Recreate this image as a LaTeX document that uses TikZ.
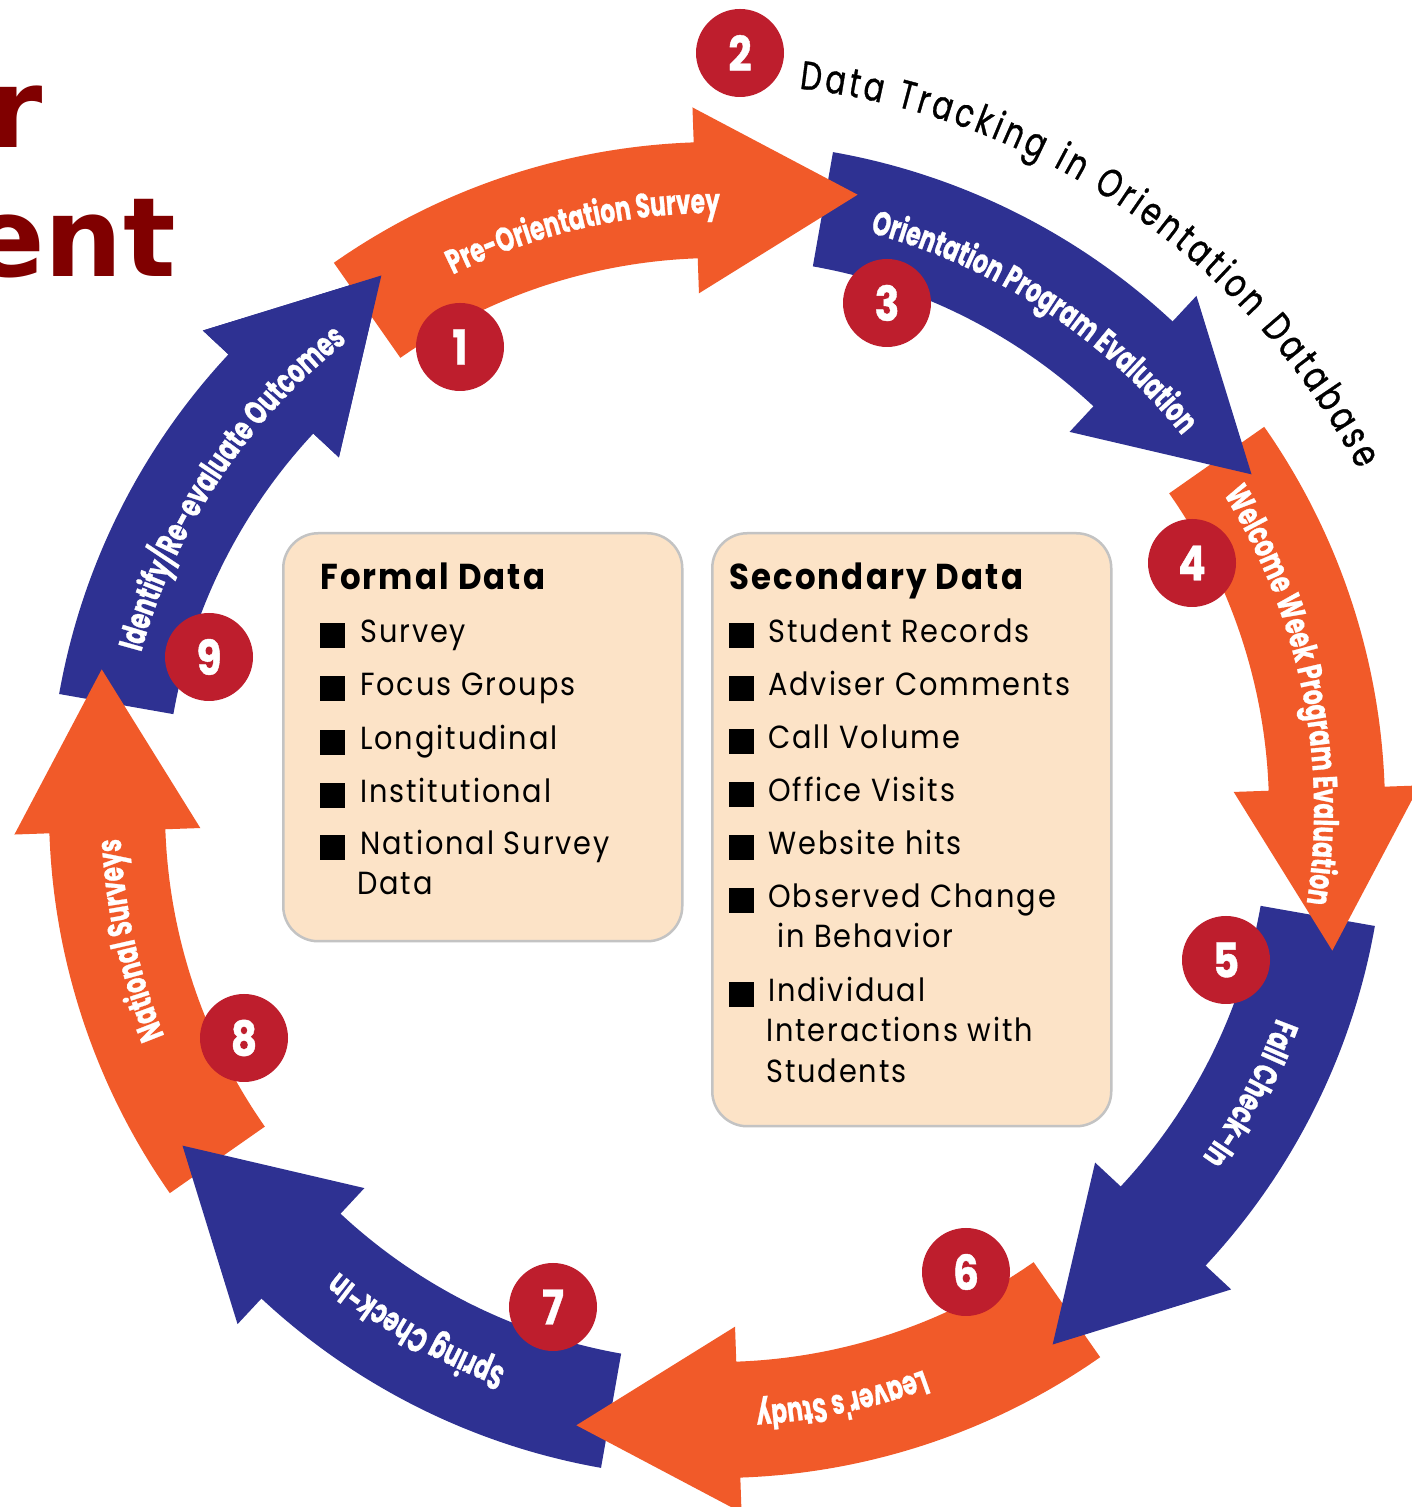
\documentclass[tikz,border=0pt]{standalone}
\usepackage{fontspec}
\setmainfont{Poppins}
\newfontfamily\boxfamily[FakeStretch=0.9, LetterSpace=6]{Poppins}
\newfontfamily\outerfamily[FakeStretch=0.75, FakeBold=0.8]{Poppins}
\newfontfamily\arrowfamily[FakeStretch=0.68, FakeBold=0.8]{Poppins}
\newfontfamily\numfamily[FakeStretch=0.85, FakeBold=0.8]{Poppins}
\newfontfamily\titlefamily{DejaVu Sans}
\usetikzlibrary{decorations.text,calc}
\definecolor{arrorange}{RGB}{241,90,41}
\definecolor{arrblue}{RGB}{46,49,146}
\definecolor{numred}{RGB}{190,30,45}
\definecolor{peach}{RGB}{252,227,199}
\definecolor{boxgray}{RGB}{195,195,195}
\definecolor{titlered}{RGB}{128,0,0}
\tikzset{
 bandtext/.style={decorate, decoration={text along path, text align=center, text color=white,
   text={|\arrowfamily\bfseries\fontsize{34}{34}\selectfont|#1}}},
 numcirc/.style={circle, fill=numred, minimum size=88pt, inner sep=0pt, text=white,
   font=\numfamily\bfseries\fontsize{48}{48}\selectfont},
 databox/.style={draw=boxgray, line width=2.5pt, fill=peach, rounded corners=35pt,
   anchor=north west, inner sep=0pt},
 heading/.style={anchor=base west, inner sep=0pt, font=\boxfamily\bfseries\fontsize{36}{36}\selectfont},
 item/.style={anchor=base west, inner sep=0pt, font=\boxfamily\fontsize{32}{32}\selectfont},
 bullet/.style={fill=black, minimum size=25pt, inner sep=0pt, anchor=south west},
 titletext/.style={anchor=base east, inner sep=0pt, text=titlered,
   font=\titlefamily\bfseries\fontsize{110}{110}\selectfont}
}
\begin{document}
\begin{tikzpicture}[x=1pt,y=1pt]
\useasboundingbox (0,0) rectangle (1411,1507);
\fill[white] (0,0) rectangle (1411,1507);

% cropped title
\node[titletext] (title1) at (43,1359) {r};
\node[titletext] (title2) at (176,1230) {ent};

% ring of arrows
\begin{scope}[shift={(717,697)}]
\foreach \t/\c in {170/arrblue,215/arrorange,260/arrblue,305/arrorange,350/arrblue,35/arrorange,80/arrblue,125/arrorange}{
  \pgfmathsetmacro\hb{\t-33}
  \pgfmathsetmacro\tg{\t-123}
  \fill[\c] (\t:668) arc[start angle=\t, end angle=\hb, radius=668] -- (\hb:703)
     -- ($(\hb:610)+(\tg:162)$) -- (\hb:517) -- (\hb:552)
     arc[start angle=\hb, end angle=\t, radius=552] -- cycle;
}
% head of arrow 8 lies over the tail of arrow 1
\fill[arrblue] (137:703) -- ($(137:610)+(47:162)$) -- (137:517) -- cycle;

% labels along the arrows
\path[bandtext={Pre-Orientation Survey}] (133:597) arc[start angle=133, end angle=73, radius=597];
\path[bandtext={Orientation Program Evaluation}] (87:597) arc[start angle=87, end angle=27, radius=597];
\path[bandtext={Welcome Week Program Evaluation}] (41.5:597) arc[start angle=41.5, end angle=-18.5, radius=597];
\path[bandtext={Fall Check-In}] (2:597) arc[start angle=2, end angle=-58, radius=597];
\path[bandtext={Leaver's Study}] (-48:597) arc[start angle=-48, end angle=-108, radius=597];
\path[bandtext={Spring Check-In}] (-90:597) arc[start angle=-90, end angle=-150, radius=597];
\path[bandtext={National Surveys}] (222.5:597) arc[start angle=222.5, end angle=162.5, radius=597];
\path[bandtext={Identify/Re-evaluate Outcomes}] (176.5:597) arc[start angle=176.5, end angle=116.5, radius=597];

% outer label
\path[decorate, decoration={text along path, text align=fit to path,
  text={|\outerfamily\fontsize{40}{40}\selectfont|Data Tracking in Orientation Database}}]
  (83.5:726) arc[start angle=83.5, end angle=28, radius=726];
\end{scope}

% numbered circles
\node[numcirc] (n1) at (460,1160) {1};
\node[numcirc] (n2) at (740,1454) {2};
\node[numcirc] (n3) at (887,1204) {3};
\node[numcirc] (n4) at (1192,944) {4};
\node[numcirc] (n5) at (1226,547) {5};
\node[numcirc] (n6) at (966,235) {6};
\node[numcirc] (n7) at (553,200) {7};
\node[numcirc] (n8) at (244,469) {8};
\node[numcirc] (n9) at (209,850) {9};

% Formal Data box
\node[databox, minimum width=399pt, minimum height=408pt] (formal) at (282,975) {};
\node[heading] (fh) at (320,917) {Formal Data};
\node[bullet] (fb1) at (320,859) {};
\node[item] (f1) at (360,864) {Survey};
\node[bullet] (fb2) at (320,806) {};
\node[item] (f2) at (360,811) {Focus Groups};
\node[bullet] (fb3) at (320,752) {};
\node[item] (f3) at (360,757) {Longitudinal};
\node[bullet] (fb4) at (320,699) {};
\node[item] (f4) at (360,704) {Institutional};
\node[bullet] (fb5) at (320,647) {};
\node[item] (f5) at (360,652) {National Survey};
\node[item] (f5b) at (357,612) {Data};

% Secondary Data box
\node[databox, minimum width=399pt, minimum height=593pt] (secondary) at (711,975) {};
\node[heading] (sh) at (729,917) {Secondary Data};
\node[bullet] (sb1) at (729,859) {};
\node[item] (s1) at (768,864) {Student Records};
\node[bullet] (sb2) at (729,806) {};
\node[item] (s2) at (768,811) {Adviser Comments};
\node[bullet] (sb3) at (729,753) {};
\node[item] (s3) at (768,758) {Call Volume};
\node[bullet] (sb4) at (729,700) {};
\node[item] (s4) at (768,705) {Office Visits};
\node[bullet] (sb5) at (729,647) {};
\node[item] (s5) at (768,652) {Website hits};
\node[bullet] (sb6) at (729,594) {};
\node[item] (s6) at (768,599) {Observed Change};
\node[item] (s6b) at (777,559) {in Behavior};
\node[bullet] (sb7) at (729,500) {};
\node[item] (s7) at (768,505) {Individual};
\node[item] (s7b) at (766,465) {Interactions with};
\node[item] (s7c) at (766,424) {Students};
\end{tikzpicture}
\end{document}
